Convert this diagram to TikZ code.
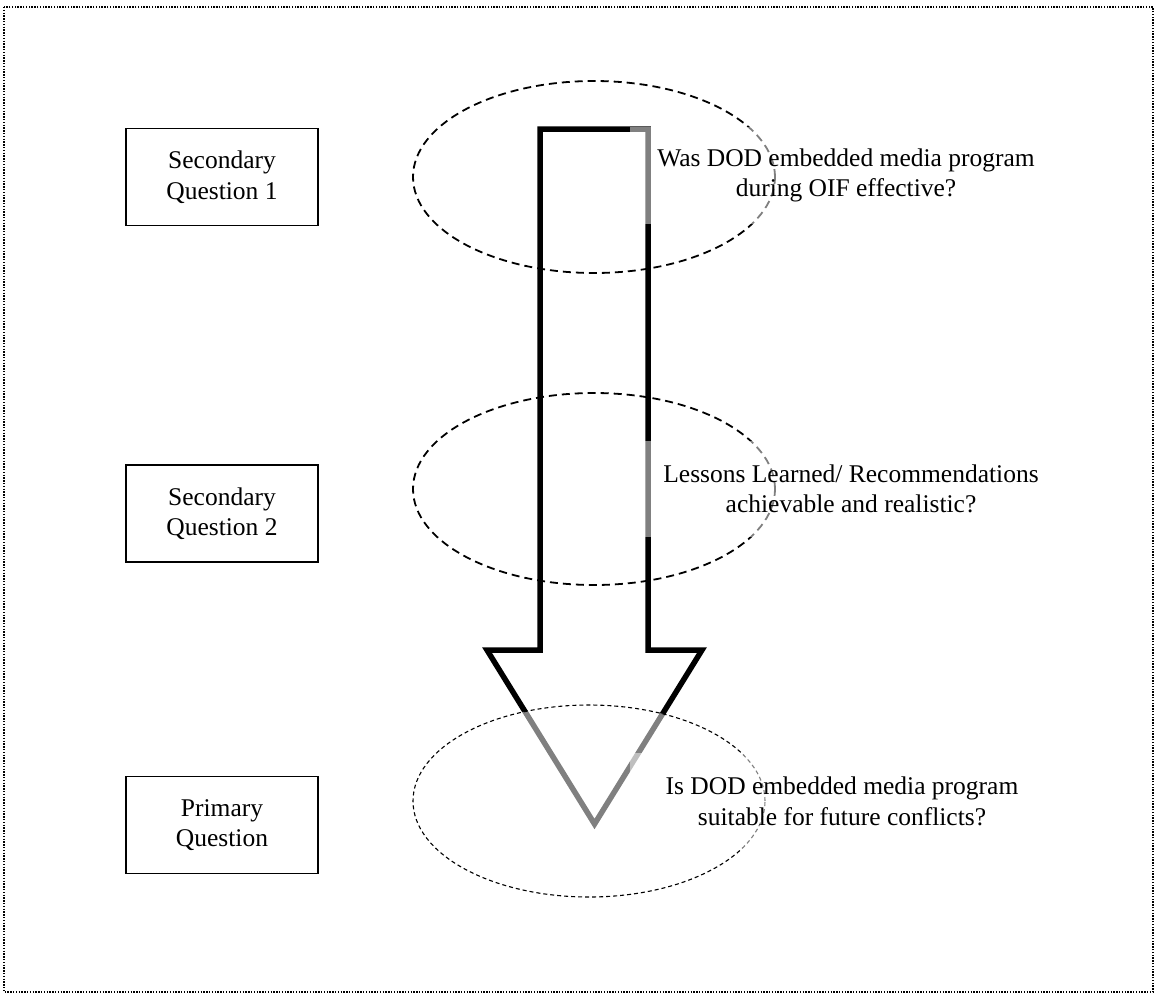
\documentclass[tikz,border=0pt]{standalone}
\usepackage{fontspec}
\setmainfont{Liberation Serif}
\usetikzlibrary{shapes.geometric}
\begin{document}
\begin{tikzpicture}[x=1pt,y=-1pt,
  lbl/.style={font=\fontsize{25.5}{30.5}\selectfont, align=center},
  qbox/.style={lbl, draw, line width=1.6pt, minimum width=192pt, minimum height=97pt, inner sep=0pt, outer sep=0pt},
  ovl/.style={lbl, fill=white, fill opacity=0.5, text opacity=1, inner sep=0pt, outer sep=0pt},
  ring/.style={ellipse, draw, line width=1.8pt, dash pattern=on 8pt off 5pt, inner sep=0pt, outer sep=0pt},
  thinring/.style={ellipse, draw, line width=1.1pt, dash pattern=on 4pt off 3pt, fill=white, fill opacity=0.5, inner sep=0pt, outer sep=0pt},
  bigarrow/.style={draw=black, line width=5.5pt, miter limit=10}
]
\useasboundingbox (0,0) rectangle (1156,994);
\draw[line width=1.3pt, dash pattern=on 1.4pt off 1.4pt] (4,7) rectangle (1153,992);

% left question boxes
\node[qbox] (s1) at (222,177) {Secondary\\Question 1};
\node[qbox] (s2) at (222,513.5) {Secondary\\Question 2};
\node[qbox] (pq) at (222,825) {Primary\\Question};

% dashed ellipses behind the arrow
\node[ring, minimum width=362pt, minimum height=192pt] (e1) at (594,177) {};
\node[ring, minimum width=362pt, minimum height=192pt] (e2) at (594,489) {};

% big arrow
\coordinate (a1) at (540,129);
\coordinate (a2) at (648,129);
\coordinate (a3) at (648,650);
\coordinate (a4) at (702,650);
\coordinate (a5) at (594.5,824);
\coordinate (a6) at (487,650);
\coordinate (a7) at (540,650);
\draw[bigarrow] (a1) -- (a2) -- (a3) -- (a4) -- (a5) -- (a6) -- (a7) -- cycle;

% primary ellipse over the arrow head
\node[thinring, minimum width=352pt, minimum height=192pt] (e3) at (589,801) {};

% question texts with translucent backgrounds
\node[ovl, minimum width=432pt, minimum height=97pt] (t1) at (846,175.5) {Was DOD embedded media program\\during OIF effective?};
\node[ovl, minimum width=422pt, minimum height=96pt] (t2) at (851,489) {Lessons Learned/ Recommendations\\achievable and realistic?};
\node[ovl, minimum width=424pt, minimum height=97pt] (t3) at (842,801.5) {Is DOD embedded media program\\suitable for future conflicts?};
\end{tikzpicture}
\end{document}
